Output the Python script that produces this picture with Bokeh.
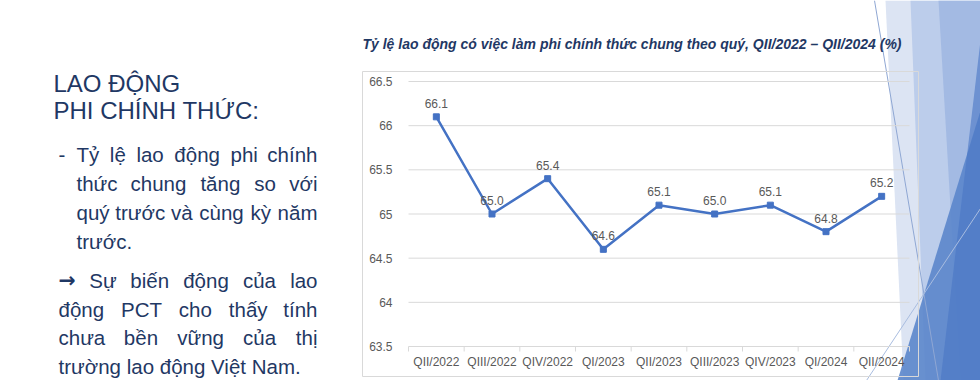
import unicodedata
from bokeh.plotting import figure
from bokeh.models import (Range1d, ColumnDataSource, LabelSet, FixedTicker, LinearAxis)
from bokeh.core.properties import value
from bokeh.embed import file_html
from bokeh.resources import INLINE

# ---------------- data ----------------
quarters = ["QII/2022", "QIII/2022", "QIV/2022", "QI/2023", "QII/2023",
            "QIII/2023", "QIV/2023", "QI/2024", "QII/2024"]
rates = [66.1, 65.0, 65.4, 64.6, 65.1, 65.0, 65.1, 64.8, 65.2]
rate_labels = ["66.1", "65.0", "65.4", "64.6", "65.1", "65.0", "65.1", "64.8", "65.2"]
y_ticks = [63.5, 64.0, 64.5, 65.0, 65.5, 66.0, 66.5]
y_tick_labels = ["63.5", "64", "64.5", "65", "65.5", "66", "66.5"]
chart_title = "Tỷ lệ lao động có việc làm phi chính thức chung theo quý, QII/2022 – QII/2024 (%)"
heading = ["LAO ĐỘNG", "PHI CHÍNH THỨC:"]
para1 = ["Tỷ lệ lao động phi chính", "thức chung tăng so với",
         "quý trước và cùng kỳ năm", "trước."]
para2 = ["→ Sự biến động của lao", "động PCT cho thấy tính",
         "chưa bền vững của thị", "trường lao động Việt Nam."]

# ---------------- styles ----------------
NAVY = "#1F3864"
GRAY_TXT = "#595959"
GRID = "#D9D9D9"
BLUE = "#4472C4"
FONT = "Liberation Sans"

W, H = 980, 380
LEFT_STRIP = 44                      # room for the y axis panel
PX0, PX1 = LEFT_STRIP, W             # frame extent in page pixels
PY0, PY1 = 0, H
# plot area of the chart in page pixels
CL, CR, CT, CB = 408, 909, 81, 346

n = len(quarters)
centers = [i + 0.5 for i in range(n)]
bounds = list(range(n + 1))
ppx = (CR - CL) / n                               # pixels per category slot
ppy = (CB - CT) / (y_ticks[-1] - y_ticks[0])      # pixels per unit

x_rng = Range1d((PX0 - CL) / ppx, (PX1 - CL) / ppx)
y_rng = Range1d(y_ticks[0] - (PY1 - CB) / ppy, y_ticks[-1] + (CT - PY0) / ppy)

p = figure(width=W, height=H, x_range=x_rng, y_range=y_rng,
           output_backend="svg", toolbar_location=None, title_location=None,
           x_axis_location=None, y_axis_location=None,
           min_border_left=LEFT_STRIP, min_border_right=0,
           min_border_top=0, min_border_bottom=0,
           outline_line_color=None, background_fill_color="white",
           border_fill_color="white")
p.xgrid.visible = False
p.ygrid.visible = False

# page-pixel coordinates for slide decorations and texts
p.extra_x_ranges = {"px": Range1d(PX0, PX1)}
p.extra_y_ranges = {"py": Range1d(PY1, PY0)}
PXY = dict(x_range_name="px", y_range_name="py")

# ---------------- decorations ----------------
deco = [
    ([885, 980, 980, 903], [0, 0, 380, 380], "#DCE4F3", 1.0),
    ([910, 980, 980, 925], [0, 0, 380, 380], "#BCCDEB", 1.0),
    ([938, 980, 980, 960], [0, 0, 380, 380], "#A3BAE3", 1.0),
    ([980, 980, 897], [110, 380, 380], "#5B86CB", 0.9),
    ([980, 980, 940], [40, 380, 380], "#4A77C4", 0.6),
]
for xs, ys, col, a in deco:
    p.patch(xs, ys, fill_color=col, fill_alpha=a, line_color=None, **PXY)
p.line([874, 938], [0, 380], line_color="#8FA7D3", line_width=1, **PXY)
p.line([866, 980], [380, 208], line_color="#A9BDE0", line_width=1, **PXY)

# chart box
p.quad(left=[362], right=[918], top=[71], bottom=[376], fill_color="white",
       fill_alpha=0.0, line_color=GRID, line_width=1, **PXY)

# ---------------- chart ----------------
p.segment(x0=[0] * len(y_ticks), x1=[n] * len(y_ticks), y0=y_ticks, y1=y_ticks,
          line_color=GRID, line_width=1)
p.segment(x0=bounds, x1=bounds, y0=[y_ticks[0]] * len(bounds),
          y1=[y_ticks[0] - 5 / ppy] * len(bounds), line_color=GRID, line_width=1)

yax = LinearAxis(fixed_location=0, ticker=FixedTicker(ticks=y_ticks),
                 major_label_overrides={t: s for t, s in zip(y_ticks, y_tick_labels)},
                 axis_line_color=None, major_tick_line_color=None,
                 minor_tick_line_color=None, major_label_text_font=FONT,
                 major_label_text_font_size="12px", major_label_text_color=GRAY_TXT,
                 major_label_standoff=10)
p.add_layout(yax, "left")

xsrc = ColumnDataSource(dict(x=centers, y=[y_ticks[0]] * n, q=quarters))
p.add_layout(LabelSet(x="x", y="y", text="q", source=xsrc, y_offset=-15,
                      text_align="center", text_baseline="middle",
                      text_font=value(FONT), text_font_size="12px",
                      text_color=GRAY_TXT))

src = ColumnDataSource(dict(x=centers, q=quarters, v=rates, lab=rate_labels))
p.line(x="x", y="v", source=src, line_color=BLUE, line_width=2.5)
p.scatter(x="x", y="v", source=src, marker="square", size=6,
          fill_color=BLUE, line_color=BLUE)
p.add_layout(LabelSet(x="x", y="v", text="lab", source=src, y_offset=13.5,
                      text_align="center", text_baseline="middle",
                      text_font=value(FONT), text_font_size="12px",
                      text_color=GRAY_TXT))

# ---------------- texts ----------------
def lab(x, y, text, size, color=NAVY, align="left", style="normal", font=FONT):
    p.text(x=[x], y=[y], text=[text], text_font=value(font), text_font_size=size,
           text_color=color, text_align=align, text_baseline="alphabetic",
           text_font_style=style, **PXY)

lab(362, 43, chart_title, "14px", style="bold italic")
lab(53, 83, heading[0], "24px")
lab(53, 110, heading[1], "24px")

AW = {c: w for c, w in zip("abcdefghijklmnopqrstuvwxyz",
      [556, 556, 500, 556, 556, 278, 556, 556, 222, 222, 500, 222, 833, 556, 556,
       556, 556, 333, 500, 278, 556, 500, 722, 500, 500, 500])}
AW.update({c: w for c, w in zip("ABCDEFGHIJKLMNOPQRSTUVWXYZ",
      [667, 667, 722, 722, 667, 611, 778, 722, 278, 500, 667, 556, 833, 722, 778,
       667, 778, 722, 667, 611, 722, 667, 944, 667, 667, 611])})
AW.update({" ": 278, ".": 278, ",": 278, "-": 333, ":": 278, "đ": 556, "Đ": 722, "→": 838})


def text_w(s, size):
    tot = 0
    for ch in s:
        d = unicodedata.normalize("NFD", ch)
        w = AW.get(ch, AW.get(d[0], 556))
        if "\u031b" in d:
            w += 60
        tot += w
    return tot * size / 1000.0


BODY = 20.5


def word(x, y, w, align):
    if w == "→":
        lab(x, y - 1, w, f"{BODY}px", align=align, style="bold", font="DejaVu Sans")
    else:
        lab(x, y, w, f"{BODY}px", align=align)


def justified(line, x0, x1, y, justify=True):
    if not justify:
        lab(x0, y, line, f"{BODY}px")
        return
    words = line.split()
    ws = [text_w(w, BODY) for w in words]
    gap = (x1 - x0 - sum(ws)) / (len(words) - 1)
    x = x0
    for i, (w, wd) in enumerate(zip(words, ws)):
        if i == 0:
            word(x0, y, w, "left")
        elif i == len(words) - 1:
            word(x1, y, w, "right")
        else:
            word(x + wd / 2, y, w, "center")
        x += wd + gap


lab(58, 154, "-", f"{BODY}px")
base1 = [154, 183, 212, 241]
for i, ln in enumerate(para1):
    justified(ln, 76, 317, base1[i], justify=(i < len(para1) - 1))
base2 = [280, 308.5, 337, 365.5]
for i, ln in enumerate(para2):
    justified(ln, 58, 317, base2[i], justify=(i < len(para2) - 1))

open("out.html", "w").write(file_html(p, INLINE))
